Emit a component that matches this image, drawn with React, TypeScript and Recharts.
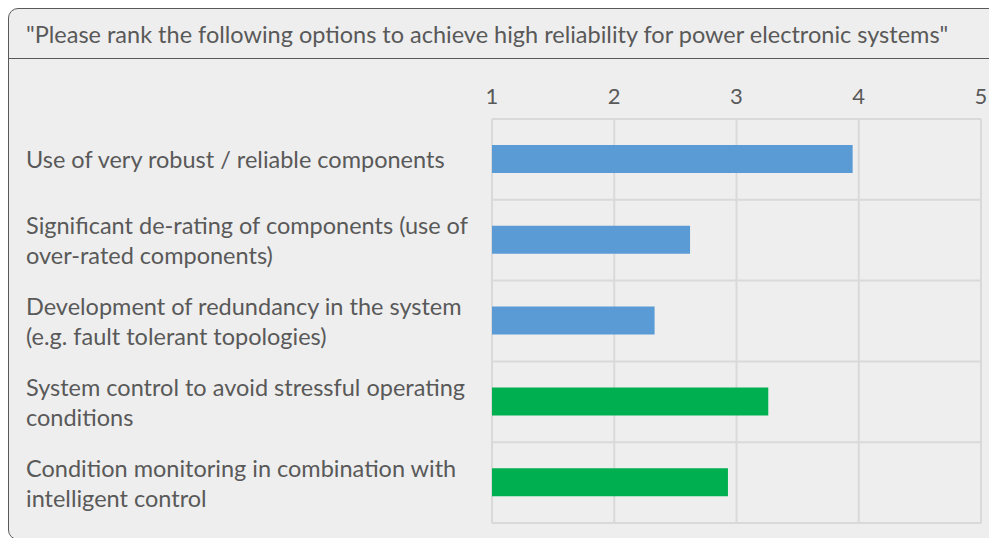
import { BarChart, Bar, XAxis, YAxis, CartesianGrid, Cell } from "recharts";

const title =
  '"Please rank the following options to achieve high reliability for power electronic systems"';

const options = [
  "Use of very robust / reliable components",
  "Significant de-rating of components (use of\nover-rated components)",
  "Development of redundancy in the system\n(e.g. fault tolerant topologies)",
  "System control to avoid stressful operating\nconditions",
  "Condition monitoring in combination with\nintelligent control",
];

// average rank, 1..5
const scores = [3.95, 2.62, 2.33, 3.26, 2.93];
const barColors = ["#5b9bd5", "#5b9bd5", "#5b9bd5", "#00b050", "#00b050"];
const rankTicks = [1, 2, 3, 4, 5];

const data = options.map((label, i) => ({ label, score: scores[i] }));

const FONT = "Lato, sans-serif";
const TEXT = "#595959";

function OptionTick({ y, payload }: any) {
  const lines = String(payload.value).split("\n");
  return (
    <text
      x={18}
      y={y}
      fill={TEXT}
      fontSize={23.5}
      fontFamily={FONT}
      textAnchor="start"
      dominantBaseline="central"
    >
      {lines.map((ln, i) => (
        <tspan key={i} x={18} y={y + (i - (lines.length - 1) / 2) * 30}>
          {ln}
        </tspan>
      ))}
    </text>
  );
}

export default function App() {
  return (
    <div style={{ width: 989, height: 530, overflow: "hidden", position: "relative" }}>
      <div
        style={{
          position: "absolute",
          left: 0,
          top: 0,
          width: 1010,
          height: 532,
          boxSizing: "border-box",
          border: "1.5px solid #595959",
          borderRadius: 10,
          background: "#eeeeee",
        }}
      />
      <div
        style={{
          position: "absolute",
          left: 0,
          top: 50,
          width: 989,
          borderTop: "1.5px solid #595959",
        }}
      />
      <div
        style={{
          position: "absolute",
          left: 18,
          top: 12,
          fontFamily: FONT,
          fontSize: 23.5,
          color: TEXT,
          whiteSpace: "nowrap",
        }}
      >
        {title}
      </div>
      <div style={{ position: "absolute", left: 0, top: 0 }}>
        <BarChart
          width={989}
          height={530}
          data={data}
          layout="vertical"
          margin={{ top: 81, right: 16, bottom: 15, left: 0 }}
        >
          <CartesianGrid
            stroke="#d9d9d9"
            strokeWidth={2}
            horizontalCoordinatesGenerator={({ offset }: any) =>
              options.map((_, i) => offset.top + (i * offset.height) / options.length).concat(offset.top + offset.height)
            }
          />
          <XAxis
            type="number"
            orientation="top"
            domain={[1, 5]}
            ticks={rankTicks}
            axisLine={false}
            tickLine={false}
            tickSize={0}
            tickMargin={15}
            height={30}
            tick={{ fill: TEXT, fontSize: 22, fontFamily: FONT }}
          />
          <YAxis
            type="category"
            dataKey="label"
            width={484}
            axisLine={false}
            tickLine={false}
            tick={<OptionTick />}
          />
          <Bar dataKey="score" barSize={28} isAnimationActive={false}>
            {data.map((_, i) => (
              <Cell key={i} fill={barColors[i]} />
            ))}
          </Bar>
        </BarChart>
      </div>
    </div>
  );
}
